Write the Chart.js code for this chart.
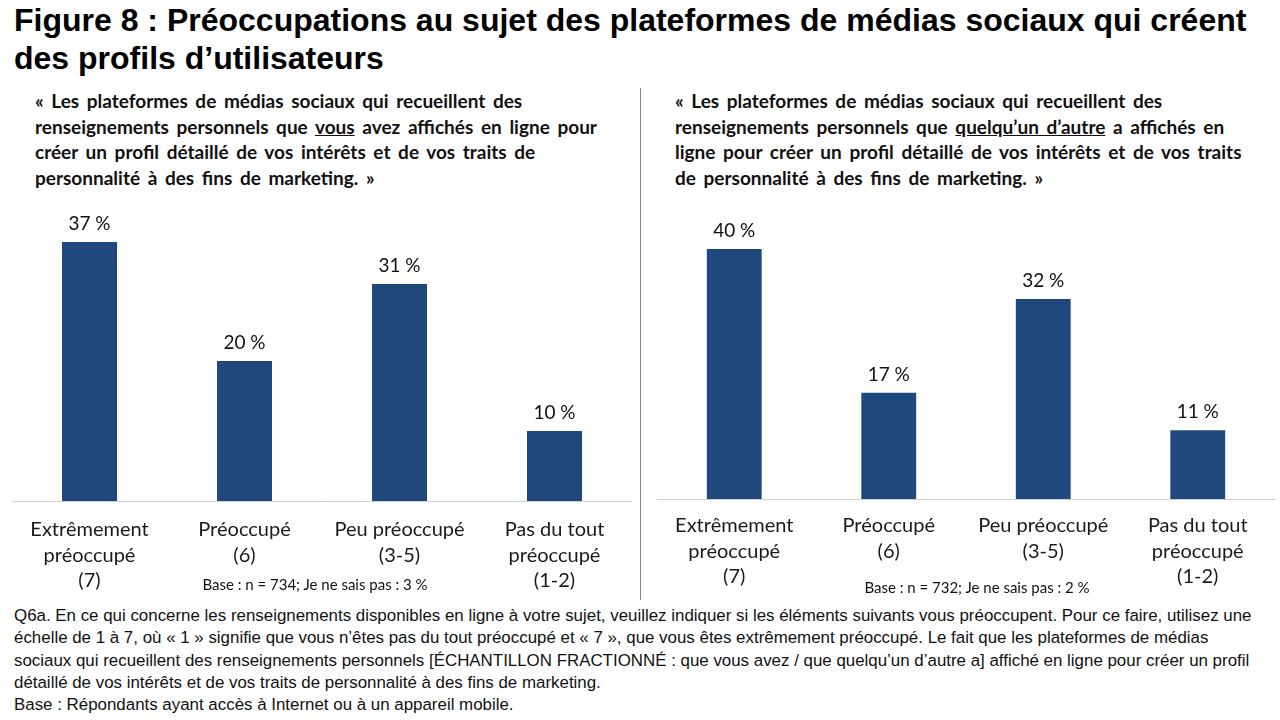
<!DOCTYPE html>
<html>
<head>
<meta charset="utf-8">
<script src="https://cdn.jsdelivr.net/npm/chart.js@4/dist/chart.umd.min.js"></script>
<style>
  body { margin: 0; width: 1280px; height: 720px; background: #fff; position: relative; overflow: hidden; font-family: Lato, sans-serif; color: #000; }
  .title { position: absolute; left: 14px; top: 1px; font: bold 32px/38px "Liberation Sans", Arial, sans-serif; white-space: nowrap; }
  .sub { position: absolute; top: 88px; font: bold 19px/25.7px Lato, sans-serif; word-spacing: 3px; color: #111; white-space: nowrap; }
  .base { position: absolute; font: 15px Lato, sans-serif; color: #111; white-space: nowrap; transform: translateX(-50%); }
  .foot { position: absolute; left: 14px; top: 605px; font: 16.9px/22.3px "Liberation Sans Narrow", "Liberation Sans", sans-serif; color: #111; white-space: nowrap; }
  .divider { position: absolute; left: 640px; top: 88px; width: 1px; height: 512px; background: #888; }
  .box { position: absolute; top: 200px; height: 400px; }
</style>
</head>
<body>
<div class="title">Figure 8 : Préoccupations au sujet des plateformes de médias sociaux qui créent<br>des profils d’utilisateurs</div>
<div class="sub" style="left:35px;">« Les plateformes de médias sociaux qui recueillent des<br>renseignements personnels que <u>vous</u> avez affichés en ligne pour<br>créer un profil détaillé de vos intérêts et de vos traits de<br>personnalité à des fins de marketing. »</div>
<div class="sub" style="left:675px;">« Les plateformes de médias sociaux qui recueillent des<br>renseignements personnels que <u>quelqu’un d’autre</u> a affichés en<br>ligne pour créer un profil détaillé de vos intérêts et de vos traits<br>de personnalité à des fins de marketing. »</div>
<div class="divider"></div>
<div class="box" style="left:12px; width:620px;"><canvas id="left"></canvas></div>
<div class="box" style="left:657px; width:618px;"><canvas id="right"></canvas></div>
<div class="base" style="left:315px; top:575px;">Base : n = 734; Je ne sais pas : 3 %</div>
<div class="base" style="left:977px; top:578px;">Base : n = 732; Je ne sais pas : 2 %</div>
<div class="foot">Q6a. En ce qui concerne les renseignements disponibles en ligne à votre sujet, veuillez indiquer si les éléments suivants vous préoccupent. Pour ce faire, utilisez une<br>échelle de 1 à 7, où « 1 » signifie que vous n’êtes pas du tout préoccupé et « 7 », que vous êtes extrêmement préoccupé. Le fait que les plateformes de médias<br>sociaux qui recueillent des renseignements personnels [ÉCHANTILLON FRACTIONNÉ : que vous avez / que quelqu’un d’autre a] affiché en ligne pour créer un profil<br>détaillé de vos intérêts et de vos traits de personnalité à des fins de marketing.<br>Base : Répondants ayant accès à Internet ou à un appareil mobile.</div>
<script>
var categories = [
    ['Extrêmement', 'préoccupé', '(7)'],
    ['Préoccupé', '(6)'],
    ['Peu préoccupé', '(3-5)'],
    ['Pas du tout', 'préoccupé', '(1-2)']
];
var valuesVous = [37, 20, 31, 10];
var valuesAutre = [40, 17, 32, 11];

var barColor = '#1F497D';

var valueLabels = {
    id: 'valueLabels',
    afterDatasetsDraw: function (chart) {
        var ctx = chart.ctx;
        var meta = chart.getDatasetMeta(0);
        ctx.save();
        ctx.font = '19px Lato, sans-serif';
        ctx.fillStyle = '#111';
        ctx.textAlign = 'center';
        ctx.textBaseline = 'middle';
        meta.data.forEach(function (bar, i) {
            ctx.fillText(chart.data.datasets[0].data[i] + ' %', bar.x, bar.y - 18);
        });
        ctx.restore();
    }
};

function makeChart(key, values, padTop, axisHeight, labelPad) {
    var config = {
        type: 'bar',
        data: {
            labels: categories,
            datasets: [{
                data: values,
                backgroundColor: barColor,
                categoryPercentage: 1,
                barPercentage: 0.355
            }]
        },
        options: {
            responsive: true,
            maintainAspectRatio: false,
            animation: false,
            layout: { padding: { top: padTop, left: 0, right: 0, bottom: 0 } },
            plugins: { legend: { display: false }, tooltip: { enabled: false } },
            scales: {
                x: {
                    grid: { display: false, drawTicks: false },
                    border: { display: true, color: '#d0d0d0', width: 1 },
                    ticks: {
                        color: '#1a1a1a',
                        font: { family: 'Lato, sans-serif', size: 20, lineHeight: 1.27 },
                        padding: labelPad,
                        maxRotation: 0,
                        autoSkip: false
                    },
                    afterFit: function (scale) { scale.height = axisHeight; }
                },
                y: {
                    display: false,
                    min: 0,
                    max: 40
                }
            }
        },
        plugins: [valueLabels]
    };
    var ctx = document.getElementById(key).getContext('2d');
    return new Chart(ctx, config);
}

makeChart('left', valuesVous, 21, 99, 16);
makeChart('right', valuesAutre, 49, 101, 14);
</script>
</body>
</html>
